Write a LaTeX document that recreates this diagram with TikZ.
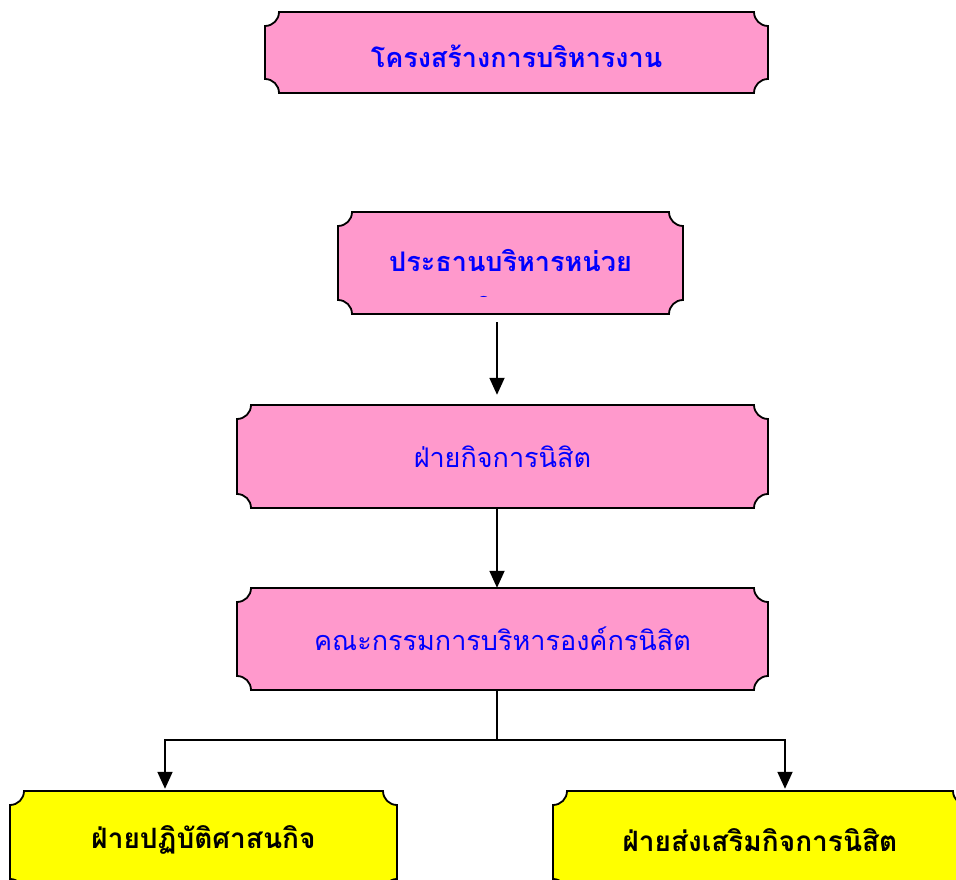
\documentclass[tikz,border=0pt]{standalone}
\usepackage{fontspec}
\newfontfamily\thai[Script=Thai]{Loma}
\usetikzlibrary{arrows.meta,calc}
\definecolor{pinkfill}{HTML}{FF99CC}
\definecolor{yelfill}{HTML}{FFFF00}
\definecolor{txtblue}{HTML}{0000FF}
\newcommand{\plq}[5]{%
  \filldraw[fill=#5,draw=black,line width=1.8pt]
   (#1,#2-14) arc[start angle=270,end angle=360,radius=14] -- (#3-14,#2)
   arc[start angle=180,end angle=270,radius=14] -- (#3,#4+14)
   arc[start angle=90,end angle=180,radius=14] -- (#1+14,#4)
   arc[start angle=0,end angle=90,radius=14] -- cycle;}
\tikzset{
  boxnode/.style={rectangle,inner sep=0pt,font=\thai\fontsize{27}{32}\selectfont},
  boldblue/.style={boxnode,text=txtblue,font=\thai\bfseries\fontsize{27}{32}\selectfont},
  normblue/.style={boxnode,text=txtblue},
  boldblack/.style={boxnode,text=black,font=\thai\bfseries\fontsize{28}{32}\selectfont},
  conn/.style={draw=black,line width=1.8pt},
  arr/.style={conn,-{Triangle[width=15pt,length=17pt]}}
}
\begin{document}
\begin{tikzpicture}[x=1pt,y=1pt]
\useasboundingbox (0,0) rectangle (956,879);
\clip (0,0) rectangle (956,879);
% shapes
\plq{265}{867}{768}{786}{pinkfill}
\plq{338}{667}{683}{565}{pinkfill}
\plq{237}{474}{768}{371}{pinkfill}
\plq{237}{291}{768}{189}{pinkfill}
\plq{10}{88}{397}{-14}{yelfill}
\plq{553}{88}{967}{-14}{yelfill}
% nodes
\node[boldblue,minimum width=503pt,minimum height=81pt] (t) at (516.5,823) {โครงสร้างการบริหารงาน};
\node[boldblue,minimum width=345pt,minimum height=102pt] (b2) at (510.5,618) {ประธานบริหารหน่วย};
\begin{scope}
\clip (338,582) rectangle (683,600);
\node[boldblue,anchor=base west] at (476,560) {กิจกรรม};
\end{scope}
\node[normblue,minimum width=531pt,minimum height=103pt] (b3) at (502.5,422.5) {ฝ่ายกิจการนิสิต};
\node[normblue,minimum width=531pt,minimum height=102pt] (b4) at (502.5,240) {คณะกรรมการบริหารองค์กรนิสิต};
\node[boldblack,minimum width=387pt,minimum height=102pt] (b5) at (203.5,39) {ฝ่ายปฏิบัติศาสนกิจ};
\node[boldblack,minimum width=414pt,minimum height=102pt] (b6) at (760,39) {ฝ่ายส่งเสริมกิจการนิสิต};
% connectors
\draw[arr,shorten <=10pt,shorten >=10pt] ([xshift=-13.5pt]b2.south) -- ([xshift=-5.5pt]b3.north);
\draw[arr] ([xshift=-5.5pt]b3.south) -- ([xshift=-5.5pt]b4.north);
\draw[conn] ([xshift=-5.5pt]b4.south) -- ++(0,-50) coordinate (j);
\draw[arr] (j) -| ([xshift=-38.5pt]b5.north);
\draw[arr] (j) -| ([xshift=25pt]b6.north);
\end{tikzpicture}
\end{document}
